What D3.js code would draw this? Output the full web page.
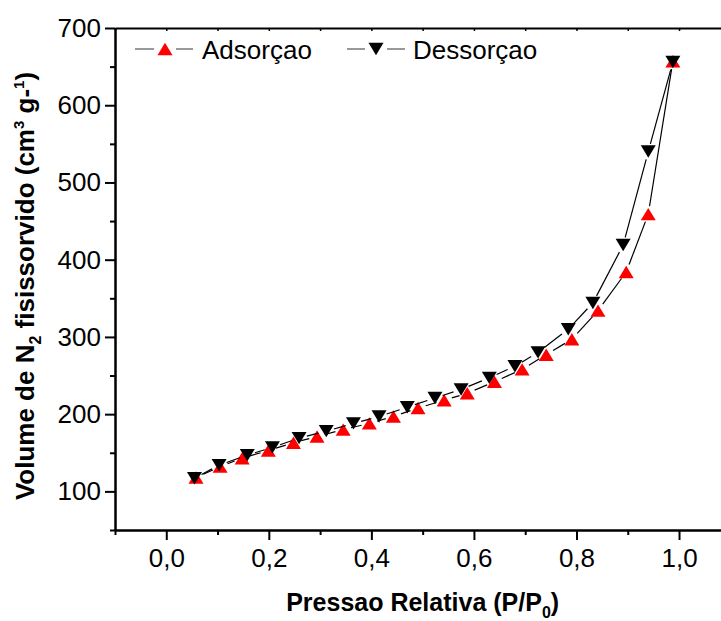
<!DOCTYPE html>
<html><head><meta charset="utf-8">
<script src="https://cdn.jsdelivr.net/npm/d3@7"></script>
<style>
body{margin:0;background:#fff}
svg{display:block}
text{font-family:"Liberation Sans",Arial,Helvetica,sans-serif;fill:#000}
</style>
</head><body>
<svg id="c" width="721" height="621"></svg>
<script>
// ---- data ----
const adsX = [0.058,0.105,0.148,0.199,0.248,0.294,0.345,0.396,0.443,0.491,0.542,0.587,0.640,0.694,0.741,0.791,0.842,0.897,0.940,0.988];
const adsY = [118,132,143,153,163,171,180,188,197,208,218,227,242,258,277,297,334,384,459,657];
const desX = [0.055,0.103,0.158,0.207,0.259,0.312,0.365,0.415,0.470,0.524,0.575,0.630,0.680,0.725,0.784,0.832,0.891,0.940,0.988];
const desY = [117,134,147,157,169,178,188,197,209,221,232,247,262,280,310,344,419,540,656];
const xMajor = [0,0.2,0.4,0.6,0.8,1.0];
const xMinor = [-0.1,0.1,0.3,0.5,0.7,0.9,1.1];
const yMajor = [100,200,300,400,500,600,700];
const yMinor = [50,150,250,350,450,550,650];
const seriesNames = ["Adsorçao","Dessorçao"];

const svg = d3.select("#c");
const L=115, R=730.3, T=28, B=530;
const x = d3.scaleLinear().domain([-0.1,1.1]).range([L,R]);
const y = d3.scaleLinear().domain([50,700]).range([B,T]);
const fmt = d => d3.format(".1f")(d).replace(".",",");

// axes
const gx = svg.append("g").attr("transform",`translate(0,${B})`)
  .call(d3.axisBottom(x).tickValues(xMajor).tickSize(10).tickSizeOuter(0).tickPadding(9).tickFormat(fmt));
const gxm = svg.append("g").attr("transform",`translate(0,${B})`)
  .call(d3.axisBottom(x).tickValues(xMinor).tickSize(5).tickSizeOuter(0).tickFormat(""));
const gt = svg.append("g").attr("transform",`translate(0,${T})`)
  .call(d3.axisBottom(x).tickValues(xMajor.concat(xMinor)).tickSize(3).tickSizeOuter(0).tickFormat(""));
const gy = svg.append("g").attr("transform",`translate(${L},0)`)
  .call(d3.axisLeft(y).tickValues(yMajor).tickSize(10).tickSizeOuter(0).tickPadding(4).tickFormat(d3.format("d")));
const gym = svg.append("g").attr("transform",`translate(${L},0)`)
  .call(d3.axisLeft(y).tickValues(yMinor).tickSize(5).tickSizeOuter(0).tickFormat(""));

svg.selectAll(".domain").attr("stroke","#000").attr("stroke-width",2);
svg.selectAll(".tick line").attr("stroke","#000").attr("stroke-width",2);
gt.selectAll(".tick line").attr("stroke-width",1.5);
svg.selectAll(".tick text").style("font-size","26px").style("font-family",'"Liberation Sans",Arial,sans-serif');

// series drawing
function segs(xs, ys, gap){
  const out=[];
  for(let i=0;i<xs.length-1;i++){
    const x1=x(xs[i]), y1=y(ys[i]), x2=x(xs[i+1]), y2=y(ys[i+1]);
    const dx=x2-x1, dy=y2-y1, len=Math.hypot(dx,dy);
    if(len>2*gap){
      const ux=dx/len, uy=dy/len;
      out.push([x1+ux*gap,y1+uy*gap,x2-ux*gap,y2-uy*gap]);
    }
  }
  return out;
}
const triUp = (cx,cy,w=7.5,h=6.2)=>`M${cx},${cy-h}L${cx+w},${cy+h}L${cx-w},${cy+h}Z`;
const triDn = (cx,cy,w=7.5,h=6.2)=>`M${cx},${cy+h}L${cx+w},${cy-h}L${cx-w},${cy-h}Z`;

function drawSeries(xs, ys, shape, color){
  const g = svg.append("g");
  g.selectAll("line").data(segs(xs,ys,8)).join("line")
    .attr("x1",d=>d[0]).attr("y1",d=>d[1]).attr("x2",d=>d[2]).attr("y2",d=>d[3])
    .attr("stroke","#000").attr("stroke-width",1.2);
  g.selectAll("path").data(xs.map((v,i)=>[v,ys[i]])).join("path")
    .attr("d",d=>shape(x(d[0]),y(d[1]))).attr("fill",color);
}
drawSeries(adsX, adsY, triUp, "#ff0000");
drawSeries(desX, desY, triDn, "#000000");

// legend
const leg = svg.append("g");
const legItems = [
  {name:seriesNames[0], shape:triUp, color:"#ff0000", lx1:135, lx2:193, mx:165, tx:202},
  {name:seriesNames[1], shape:triDn, color:"#000000", lx1:347, lx2:405, mx:376, tx:413}
];
const ly = 49;
legItems.forEach(it=>{
  leg.append("line").attr("x1",it.lx1).attr("x2",it.mx-11).attr("y1",ly).attr("y2",ly).attr("stroke","#555").attr("stroke-width",1.2);
  leg.append("line").attr("x1",it.mx+11).attr("x2",it.lx2).attr("y1",ly).attr("y2",ly).attr("stroke","#555").attr("stroke-width",1.2);
  leg.append("path").attr("d",it.shape(it.mx,ly)).attr("fill",it.color);
  leg.append("text").attr("x",it.tx).attr("y",ly+10).style("font-size","26px").text(it.name);
});

// axis titles
const xt = svg.append("text").attr("x",(L+R)/2).attr("y",611).attr("text-anchor","middle")
  .style("font-size","25px").style("font-weight","bold");
xt.append("tspan").text("Pressao Relativa (P/P");
xt.append("tspan").attr("dy",7).style("font-size","16px").text("0");
xt.append("tspan").attr("dy",-7).text(")");

const yt = svg.append("text").attr("transform",`translate(34,286) rotate(-90)`).attr("text-anchor","middle")
  .style("font-size","26px").style("font-weight","bold");
yt.append("tspan").text("Volume de N");
yt.append("tspan").attr("dy",7).style("font-size","16px").text("2");
yt.append("tspan").attr("dy",-7).text(" fisissorvido (cm");
yt.append("tspan").attr("dy",-10).style("font-size","15px").text("3");
yt.append("tspan").attr("dy",10).text(" g-");
yt.append("tspan").attr("dy",-10).style("font-size","15px").text("1");
yt.append("tspan").attr("dy",10).text(")");
</script>
</body></html>
